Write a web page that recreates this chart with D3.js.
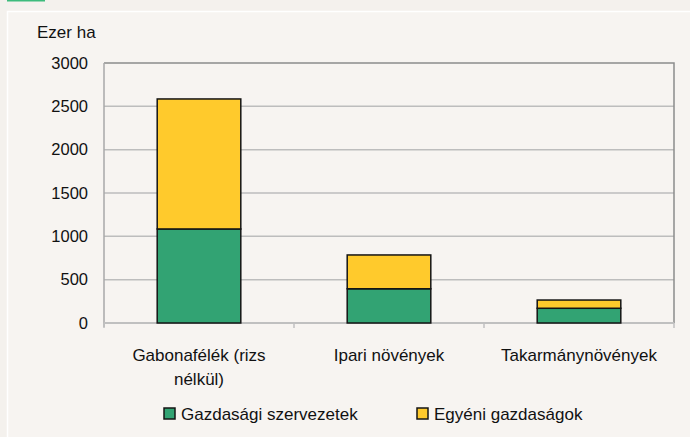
<!DOCTYPE html>
<html>
<head>
<meta charset="utf-8">
<script src="https://cdn.jsdelivr.net/npm/d3@7"></script>
<style>
  body { margin: 0; background: #f4f1ed; }
  svg { display: block; font-family: "Liberation Sans", Arial, sans-serif; }
</style>
</head>
<body>
<script>
// values, thousand hectares
var categories = ["Gabonafélék (rizs nélkül)", "Ipari növények", "Takarmánynövények"];
var seriesNames = ["Gazdasági szervezetek", "Egyéni gazdaságok"];
var szervezetek = [1085, 395, 170];
var egyeni = [1500, 390, 95];
var yTicks = [0, 500, 1000, 1500, 2000, 2500, 3000];
var colors = ["#32a373", "#ffca2c"];

var W = 690, H = 437;
var margin = {top: 63, left: 104, right: 16, bottom: 114};
var width = W - margin.left - margin.right,
    height = H - margin.top - margin.bottom;

var svg = d3.select("body").append("svg")
    .attr("width", W)
    .attr("height", H);

// panel with white edge
svg.append("rect").attr("x", 0).attr("y", 0).attr("width", W).attr("height", H).attr("fill", "#f4f1ed");
svg.append("rect").attr("x", 7.5).attr("y", 11.5).attr("width", W).attr("height", H)
    .attr("fill", "#f7f4f1").attr("stroke", "#ffffff").attr("stroke-width", 1.5);
// green title marker (title itself is cut off above)
svg.append("rect").attr("x", 7).attr("y", 0).attr("width", 38).attr("height", 1.5).attr("fill", "#3dbb7c");

var data = categories.map(function(c, i) {
  return {cat: c, s0: szervezetek[i], s1: egyeni[i]};
});
var stacked = d3.stack().keys(["s0", "s1"])(data);

var x = d3.scaleBand().domain(categories).range([0, width]).paddingInner(0.56).paddingOuter(0.28);
var xCat = d3.scaleBand().domain(categories).range([0, width]);
var y = d3.scaleLinear().domain([0, 3000]).range([height, 0]);

var g = svg.append("g").attr("transform", `translate(${margin.left}, ${margin.top})`);

// gridlines
g.append("g")
    .selectAll("line")
    .data(yTicks.filter(t => t > 0 && t < 3000))
    .enter().append("line")
    .attr("x1", 0).attr("x2", width)
    .attr("y1", d => y(d)).attr("y2", d => y(d))
    .attr("stroke", "#bdbdbd").attr("stroke-width", 1.5);

// top and right border
g.append("path")
    .attr("d", `M0,${y(3000)}H${width}V${height}`)
    .attr("fill", "none").attr("stroke", "#8c8c8c").attr("stroke-width", 1.5);

// y axis
var gy = g.append("g")
    .call(d3.axisLeft(y).tickValues(yTicks).tickSize(0).tickPadding(16).tickFormat(d3.format("d")));
gy.select(".domain").attr("stroke", "#a8a8a8").attr("stroke-width", 1.5)
    .attr("d", `M0,0V${height + 4}`);
gy.selectAll("text").attr("font-size", 16.5).attr("fill", "#111").attr("font-family", null);

// x axis
var gx = g.append("g")
    .attr("transform", `translate(0, ${height})`);
gx.append("line").attr("x1", 0).attr("x2", width).attr("stroke", "#c0c0c0").attr("stroke-width", 2);
gx.selectAll(".tick")
    .data([0].concat(categories.map(c => xCat(c) + xCat.bandwidth())))
    .enter().append("line")
    .attr("x1", d => d).attr("x2", d => d)
    .attr("y1", 0).attr("y2", 5)
    .attr("stroke", "#c0c0c0").attr("stroke-width", 1.5);

// category labels with wrapping
gx.selectAll(".cat")
    .data(categories)
    .enter().append("text")
    .attr("class", "cat")
    .attr("x", d => xCat(d) + xCat.bandwidth() / 2)
    .attr("y", 38)
    .attr("text-anchor", "middle")
    .attr("font-size", 17)
    .attr("fill", "#111")
    .text(d => d)
    .each(function(d) { wrap(d3.select(this), 180); });

function wrap(text, maxW) {
  var words = text.text().split(/\s+/), line = [], lineNo = 0;
  var xx = text.attr("x"), yy = text.attr("y");
  text.text(null);
  var tspan = text.append("tspan").attr("x", xx).attr("y", yy);
  words.forEach(function(w) {
    line.push(w);
    tspan.text(line.join(" "));
    if (tspan.node().getComputedTextLength() > maxW && line.length > 1) {
      line.pop();
      tspan.text(line.join(" "));
      line = [w];
      tspan = text.append("tspan").attr("x", xx).attr("dy", 24).text(w);
    }
  });
}

// bars
g.append("g")
    .selectAll("g")
    .data(stacked)
    .enter().append("g")
    .attr("fill", (d, i) => colors[i])
    .selectAll("rect")
    .data(d => d)
    .enter().append("rect")
    .attr("x", d => x(d.data.cat))
    .attr("y", d => y(d[1]))
    .attr("width", x.bandwidth())
    .attr("height", d => y(d[0]) - y(d[1]))
    .attr("stroke", "#141414")
    .attr("stroke-width", 1.5);

// unit label
svg.append("text")
    .attr("x", 37).attr("y", 38)
    .attr("font-size", 17).attr("fill", "#111")
    .text("Ezer ha");

// legend
var legend = svg.append("g").attr("transform", "translate(0, 414)");
var legX = [164, 417];
var items = legend.selectAll("g")
    .data(seriesNames)
    .enter().append("g")
    .attr("transform", (d, i) => `translate(${legX[i]}, 0)`);
items.append("rect")
    .attr("x", 0).attr("y", -6).attr("width", 11).attr("height", 11)
    .attr("fill", (d, i) => colors[i])
    .attr("stroke", "#141414").attr("stroke-width", 1.5);
items.append("text")
    .attr("x", 17).attr("y", 6)
    .attr("font-size", 17).attr("fill", "#111")
    .text(d => d);
</script>
</body>
</html>
